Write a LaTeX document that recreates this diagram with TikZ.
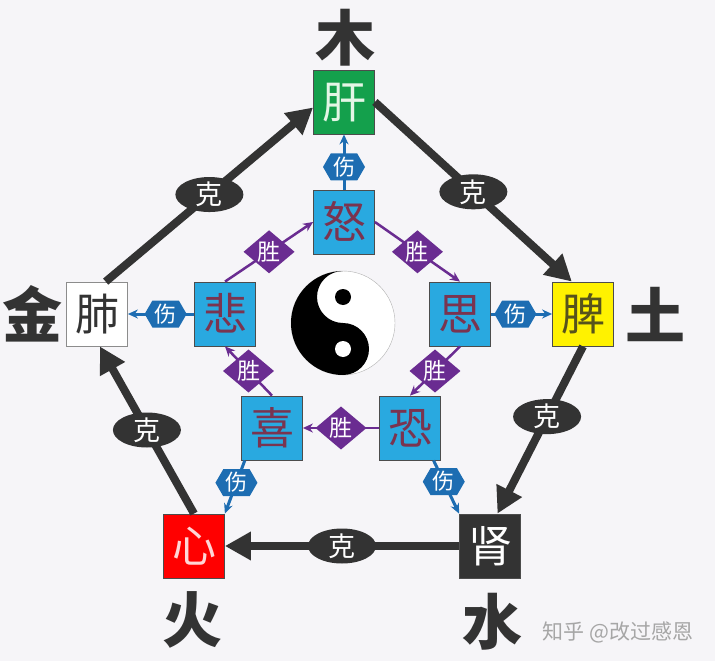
\documentclass[tikz,border=0pt]{standalone}
\usepackage{fontspec}
\newfontfamily\cjk{Noto Sans CJK SC}
\usepackage{tikz}
\usetikzlibrary{shapes.geometric, shapes.symbols, arrows.meta}
\definecolor{bg}{HTML}{F6F5F8}
\definecolor{keink}{HTML}{333333}
\definecolor{gangreen}{HTML}{14A04C}
\definecolor{ganlight}{HTML}{E4F6E6}
\definecolor{piolive}{HTML}{57531C}
\definecolor{xinpink}{HTML}{FFD6D6}
\definecolor{skyblue}{HTML}{29A9E0}
\definecolor{emotext}{HTML}{7A3450}
\definecolor{shengpurple}{HTML}{6A2C91}
\definecolor{shangblue}{HTML}{1D6DB2}
\begin{document}
\begin{tikzpicture}[x=1pt, y=-1pt,
        organ/.style={
                draw=black!70,
                line width=0.8pt,
                minimum width=61pt,
                minimum height=64pt,
                inner sep=0pt,
                text height=33pt, text depth=0pt,
                font=\cjk\fontsize{44pt}{44pt}\selectfont,
        },
        emotion/.style={organ, fill=skyblue, text=emotext},
        element/.style={text=black!80, inner sep=0pt, font=\cjk\bfseries\fontsize{60pt}{60pt}\selectfont},
        ke/.style={draw=keink, line width=8pt, -{Triangle[length=26pt, width=27pt]}},
        ketag/.style={ellipse, fill=keink, text=white, minimum width=68pt, minimum height=35pt,
                inner sep=0pt, text height=20.5pt, text depth=0pt, font=\cjk\fontsize{27pt}{27pt}\selectfont},
        sheng/.style={draw=shengpurple, line width=2.5pt, -{Stealth[length=10pt, width=9pt]}},
        shengtag/.style={diamond, fill=shengpurple, text=white, minimum width=52pt, minimum height=44pt,
                inner sep=0pt, text height=17.5pt, text depth=0pt, font=\cjk\fontsize{23pt}{23pt}\selectfont},
        shang/.style={draw=shangblue, line width=3pt, -{Stealth[length=10pt, width=9pt]}},
        shangtag/.style={signal, signal to=east and west, signal pointer angle=120, fill=shangblue, text=white,
                minimum width=42pt, minimum height=27pt, inner sep=0pt, text height=16.5pt, text depth=0pt,
                font=\cjk\fontsize{22pt}{22pt}\selectfont},
        ]
            \fill[bg] (0,0) rectangle (715,661);
            \useasboundingbox (0,0) rectangle (715,661);
            % organs
            \node[organ, fill=gangreen, text=ganlight] (gan) at (344,102) {肝};
            \node[organ, fill=yellow, text=piolive] (pi) at (583,314) {脾};
            \node[organ, fill=keink, text=white] (shen) at (490,546) {肾};
            \node[organ, fill=red, text=xinpink] (xin) at (194,546) {心};
            \node[organ, fill=white, draw=black!45, text=black!80] (fei) at (97,314) {肺};
            % emotions
            \node[emotion] (nu) at (344,222) {怒};
            \node[emotion] (si) at (460,314) {思};
            \node[emotion] (kong) at (410,428) {恐};
            \node[emotion] (xi) at (272,428) {喜};
            \node[emotion] (bei) at (225,314) {悲};
            % elements
            \node[element] (mu) at (345,38) {木};
            \node[element] (tu) at (655,314) {土};
            \node[element] (shui) at (492,622) {水};
            \node[element] (huo) at (192,620) {火};
            \node[element] (jin) at (32,314) {金};
            % yin yang
            \coordinate (yy) at (343,323);
            \draw[black!30, fill=white] (yy) circle[radius=52];
            \fill[black] (yy) ++(0,-52) arc[start angle=270, end angle=90, radius=52]
                arc[start angle=90, end angle=-90, radius=26]
                arc[start angle=90, end angle=270, radius=26] -- cycle;
            \fill[black] (yy) ++(0,-26) circle[radius=8];
            \fill[white] (yy) ++(0,26) circle[radius=8];
            % ke cycle
            \draw[ke] (fei.75) -- node[ketag] (ke1) {克} (gan.190);
            \draw[ke] (gan.east) -- node[ketag] (ke2) {克} (pi.109);
            \draw[ke] (pi.south) -- node[ketag, pos=0.42] (ke3) {克} (shen.77);
            \draw[ke] (shen.west) -- node[ketag] (ke4) {克} (xin.east);
            \draw[ke] (xin.north) -- node[ketag] (ke5) {克} (fei.-85);
            % sheng cycle
            \draw[sheng] (bei.north) -- node[shengtag] (s1) {胜} (nu.west);
            \draw[sheng] (nu.east) -- node[shengtag] (s2) {胜} (si.north);
            \draw[sheng] (si.south) -- node[shengtag] (s3) {胜} (kong.north);
            \draw[sheng] (kong.west) -- node[shengtag] (s4) {胜} (xi.east);
            \draw[sheng] (xi.north) -- node[shengtag] (s5) {胜} (bei.south);
            % shang
            \draw[shang] (nu.north) -- node[shangtag, pos=0.41] (h1) {伤} (gan.south);
            \draw[shang] (si.east) -- node[shangtag, pos=0.4] (h2) {伤} (pi.west);
            \draw[shang] (kong.-54) -- node[shangtag, pos=0.4] (h3) {伤} (shen.north west);
            \draw[shang] (xi.-130) -- node[shangtag, pos=0.42] (h4) {伤} (xin.north east);
            \draw[shang] (bei.west) -- node[shangtag, pos=0.43] (h5) {伤} (fei.east);
            \node[text=black!35, font=\cjk\fontsize{21pt}{21pt}\selectfont] (mark) at (618,632) {知乎 @改过感恩};
        \end{tikzpicture}
\end{document}
